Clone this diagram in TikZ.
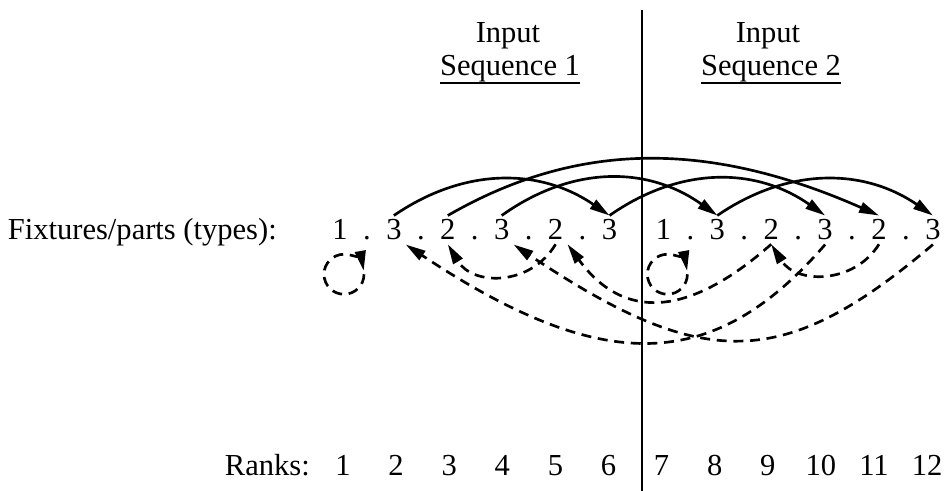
\documentclass[tikz,border=0pt]{standalone}
\usepackage{fontspec}
\setmainfont{Liberation Serif}
\usetikzlibrary{arrows.meta}

\begin{document}
\begin{tikzpicture}[x=0.75pt,y=0.75pt]
\tikzset{fix/.style={anchor=base,inner sep=3pt,font=\fontsize{22.9}{27}\selectfont},
  hdr/.style={fix,inner sep=0pt},
  fwd/.style={line width=2pt,-{Triangle[length=15pt,width=8pt]}},
  back/.style={fwd,dash pattern=on 7.5pt off 5pt}}
\useasboundingbox (0,0) rectangle (947,491);
% the two input sequences, split by the vertical line
\node[hdr] (in1) at (508,448) {Input};
\node[hdr] (seq1) at (510,415) {Sequence 1};
\node[hdr] (in2) at (768,448) {Input};
\node[hdr] (seq2) at (771,415) {Sequence 2};
\draw[line width=1.6pt] (seq1.south west) -- (seq1.south east);
\draw[line width=1.6pt] (seq2.south west) -- (seq2.south east);
\coordinate (vtop) at (642,481);
\coordinate (vbot) at (642,0);
\draw[line width=2.2pt] (vtop) -- (vbot);
\node[hdr,anchor=base east] (fixlab) at (277,251) {Fixtures/parts (types):};
\node[hdr,anchor=base east] (ranklab) at (310,15) {Ranks:};
\foreach \t [count=\k] in {1,3,2,3,2,3,1,3,2,3,2,3}
    \node[fix] (f\k) at ({340+53.9*(\k-1)},251) {\t};
\foreach \k in {1,...,5,7,8,...,11}
    \node[fix] (d\k) at ({340+53.9*(\k-0.5)},251) {.};
\foreach \k in {1,...,12}
    \node[fix] (r\k) at ({343+53.1*(\k-1)},15) {\k};
% forward links above
\draw[fwd] (f2.north) .. controls +(70,48) and +(-70,48) .. (f6.north);
\draw[fwd] (f3.north) .. controls +(130,75) and +(-170,75) .. (f11.north);
\draw[fwd] (f4.north) .. controls +(70,50) and +(-70,50) .. (f8.north);
\draw[fwd] (f6.north) .. controls +(70,49) and +(-70,49) .. (f10.north);
\draw[fwd] (f8.north) .. controls +(70,48) and +(-70,48) .. (f12.north);
% backward links below
\draw[back] (f5.south) .. controls +(-25,-42) and +(25,-42) .. (f3.south);
\draw[back] (f11.south) .. controls +(-25,-40) and +(25,-40) .. (f9.south);
\draw[back] (f9.south) .. controls +(-85,-75) and +(55,-75) .. (f5.south east);
\draw[back] (f10.south) .. controls +(-110,-127) and +(200,-133) .. (f2.south east);
\draw[back] (f12.south) .. controls +(-150,-127) and +(190,-127) .. (f4.south east);
\foreach \k in {1,7}
    \draw[back] ([shift={(4,-30)}]f\k.south) ++(0:20) arc[start angle=0,end angle=-350,radius=20];
\end{tikzpicture}
\end{document}
